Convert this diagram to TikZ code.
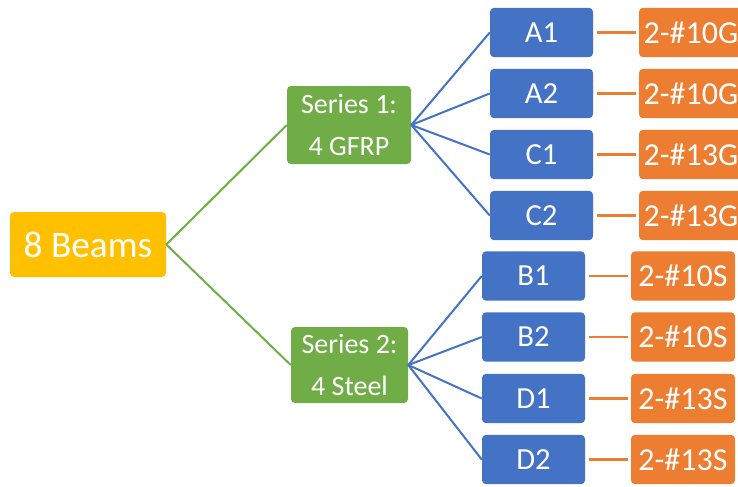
\documentclass[tikz,border=0pt]{standalone}
\usepackage{fontspec}
\setmainfont{Carlito}
\usepackage{tikz}

\definecolor{gold}{HTML}{FFC000}
\definecolor{leaf}{HTML}{70AD47}
\definecolor{sea}{HTML}{4472C4}
\definecolor{rust}{HTML}{ED7D31}

\tikzset{
box/.style={rounded corners=3pt,inner sep=0pt,text=white,align=center},
beamsbox/.style={box,fill=gold,minimum width=117pt,minimum height=48.75pt,font=\fontsize{28}{32}\selectfont},
seriesbox/.style={box,fill=leaf,font=\fontsize{21}{32}\selectfont},
specbox/.style={box,fill=sea,minimum width=77.25pt,minimum height=37pt,font=\fontsize{23}{27}\selectfont},
barbox/.style={box,fill=rust,minimum width=78pt,minimum height=37pt,font=\fontsize{24}{27}\selectfont}
}

\begin{document}
\begin{tikzpicture}[x=0.75pt,y=-0.75pt]
\clip (0,0) rectangle (738,486);

\node[beamsbox] (beams) at (88,244.5){8 Beams};
\node[seriesbox,minimum width=93pt,minimum height=58.5pt] (s1) at (349,125){Series 1:\\4 GFRP};
\node[seriesbox,minimum width=87.75pt,minimum height=57pt] (s2) at (349.5,365){Series 2:\\4 Steel};

\draw[leaf,line width=1.5pt] (beams.east)--(s1.west); \draw[leaf,line width=1.5pt] (beams.east)--(s2.west);

%Series 1
\node[specbox] (a1) at (541.5,32.5){A1}; \node[specbox] (a2) at (541.5,93.5){A2};
\node[specbox] (c1) at (541.5,154.5){C1}; \node[specbox] (c2) at (541.5,215.5){C2};
\node[barbox] (ga1) at (691,32.5){2-\#10G}; \node[barbox] (ga2) at (691,93.5){2-\#10G};
\node[barbox] (gc1) at (691,154.5){2-\#13G}; \node[barbox] (gc2) at (691,215.5){2-\#13G};

\draw[sea,line width=1.5pt] (s1.east)--(a1.west); \draw[sea,line width=1.5pt] (s1.east)--(a2.west); \draw[sea,line width=1.5pt] (s1.east)--(c1.west); \draw[sea,line width=1.5pt] (s1.east)--(c2.west);
\draw[rust,line width=1.6pt,shorten <=3pt,shorten >=2pt] (a1)--(ga1); \draw[rust,line width=1.6pt,shorten <=3pt,shorten >=2pt] (a2)--(ga2); \draw[rust,line width=1.6pt,shorten <=3pt,shorten >=2pt] (c1)--(gc1); \draw[rust,line width=1.6pt,shorten <=3pt,shorten >=2pt] (c2)--(gc2);

%Series 2
\node[specbox] (b1) at (533.5,276){B1}; \node[specbox] (b2) at (533.5,337){B2};
\node[specbox] (d1) at (533.5,398.5){D1}; \node[specbox] (d2) at (533.5,459.5){D2};
\node[barbox] (sb1) at (683,276){2-\#10S}; \node[barbox] (sb2) at (683,337){2-\#10S};
\node[barbox] (sd1) at (683,398.5){2-\#13S}; \node[barbox] (sd2) at (683,459.5){2-\#13S};

\draw[sea,line width=1.5pt] (s2.east)--(b1.west); \draw[sea,line width=1.5pt] (s2.east)--(b2.west); \draw[sea,line width=1.5pt] (s2.east)--(d1.west); \draw[sea,line width=1.5pt] (s2.east)--(d2.west);
\draw[rust,line width=1.6pt,shorten <=3pt,shorten >=2pt] (b1)--(sb1); \draw[rust,line width=1.6pt,shorten <=3pt,shorten >=2pt] (b2)--(sb2); \draw[rust,line width=1.6pt,shorten <=3pt,shorten >=2pt] (d1)--(sd1); \draw[rust,line width=1.6pt,shorten <=3pt,shorten >=2pt] (d2)--(sd2);
\end{tikzpicture}
\end{document}
